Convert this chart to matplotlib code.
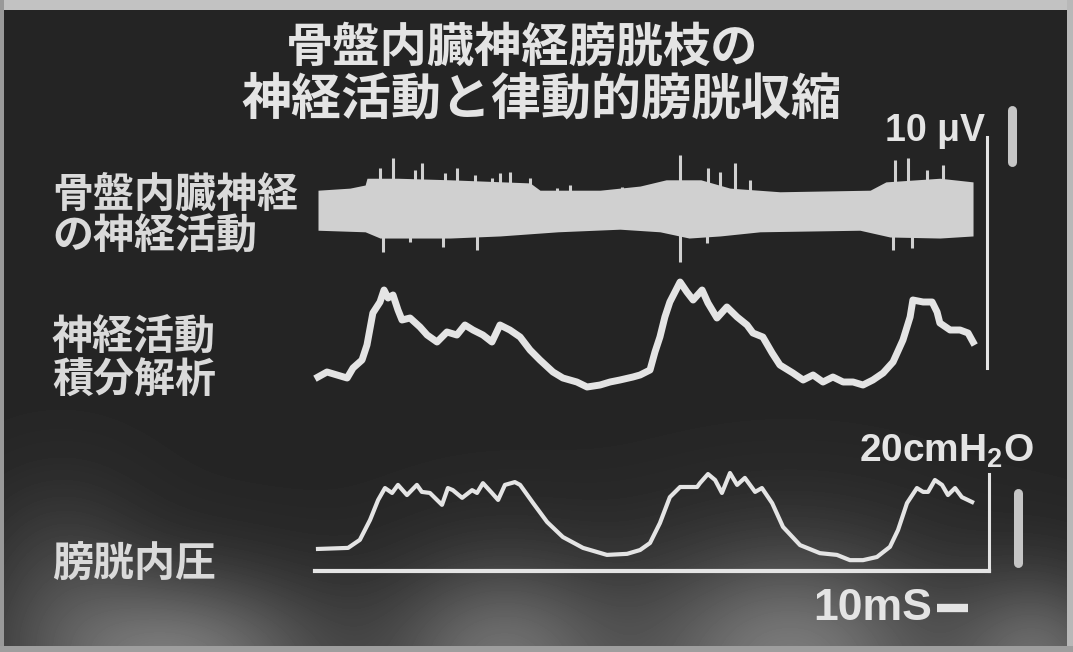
import numpy as np
import matplotlib
matplotlib.use("Agg")
import matplotlib.pyplot as plt

plt.rcParams['font.family'] = ['Noto Sans CJK JP', 'DejaVu Sans']
plt.rcParams['mathtext.default'] = 'regular'

# ---- data ----
# time in ms, 10 ms scale bar
title_lines = ["骨盤内臓神経膀胱枝の", "神経活動と律動的膀胱収縮"]
trace_labels = [["骨盤内臓神経", "の神経活動"], ["神経活動", "積分解析"], ["膀胱内圧"]]

# nerve activity (uV): envelope of the raw band
env_up_t = [0, 10.3, 15.2, 15.8, 25.8, 42.6, 68.4, 71.6, 91.0, 103.9, 112.3, 123.5,
            132.9, 149.0, 178.1, 183.2, 200.6, 211.3]
env_up_v = [4.0, 4.4, 5.0, 6.3, 6.3, 6.0, 5.4, 4.0, 4.0, 4.8, 6.0, 6.0,
            4.4, 3.7, 4.0, 5.6, 6.3, 5.6]
env_lo_t = [0, 15.2, 20.0, 42.6, 58.7, 77.4, 97.4, 110.3, 119.7, 129.7, 142.6,
            174.8, 184.5, 200.6, 211.3]
env_lo_v = [-3.7, -4.0, -5.2, -5.2, -4.8, -4.0, -3.5, -4.0, -5.2, -4.8, -4.0,
            -3.7, -5.0, -5.2, -4.8]
spike_up_t = [20.0, 24.2, 31.3, 33.5, 41.0, 44.8, 50.6, 56.1, 58.7, 61.9, 68.4, 77.1,
              81.3, 98.1, 116.8, 125.8, 129.7, 134.5, 139.4, 186.1, 190.3, 196.5,
              201.6, 208.1]
spike_up_v = [8.3, 10.2, 7.9, 9.2, 7.3, 8.3, 6.9, 6.3, 7.3, 7.5, 6.3, 4.4,
              5.0, 4.6, 10.8, 8.3, 7.5, 9.2, 6.0, 9.8, 10.2, 7.9,
              8.8, 5.6]
spike_dn_t = [21.0, 29.7, 40.3, 51.3, 116.8, 125.5, 185.5, 191.6]
spike_dn_v = [-7.9, -6.0, -6.9, -7.5, -9.8, -6.2, -7.5, -7.1]

# integrated nerve activity (a.u.)
integ_t = [0, 2.9, 9.4, 11.3, 14.2, 15.8, 17.7, 20.0, 21.3, 22.6, 24.2, 25.8, 27.1,
           29.7, 32.9, 35.2, 38.4, 41.6, 44.8, 47.4, 50.0, 53.2, 56.1, 58.7, 61.9,
           65.2, 68.4, 71.6, 75.8, 79.0, 83.5, 86.8, 91.0, 94.2, 97.4, 101.6, 103.9,
           107.1, 108.7, 110.3, 111.9, 113.5, 116.8, 119.0, 121.0, 123.9, 125.8,
           128.7, 131.9, 135.2, 138.4, 140.3, 143.5, 146.5, 149.0, 153.2, 156.5,
           159.7, 162.9, 166.1, 169.4, 172.6, 175.8, 179.0, 182.3, 185.5, 188.7,
           191.0, 191.9, 195.2, 198.1, 199.7, 200.6, 203.9, 207.1, 209.7, 211.3]
integ_v = [10, 15, 9, 19, 27, 42, 74, 85, 97, 89, 92, 77, 67,
           69, 60, 52, 45, 55, 52, 62, 57, 52, 45, 62, 57,
           50, 37, 27, 15, 9, 5, 0, 2, 5, 7, 10, 12,
           17, 35, 50, 70, 85, 105, 95, 87, 97, 84,
           69, 80, 70, 62, 54, 50, 34, 22, 14, 7,
           12, 5, 10, 5, 5, 2, 7, 14, 25, 47,
           70, 87, 85, 85, 75, 64, 57, 57, 54, 45]

# intravesical pressure (cmH2O)
press_t = [0, 9.7, 13.5, 16.8, 19.4, 21.6, 23.9, 25.8, 28.7, 31.9, 33.5, 36.1, 37.7,
           40.0, 41.9, 43.5, 46.5, 49.7, 51.3, 53.2, 56.1, 58.1, 60.3, 63.5, 65.2,
           69.4, 73.9, 79.0, 85.5, 93.2, 99.7, 103.9, 107.1, 110.3, 113.5, 116.8,
           122.3, 123.2, 125.8, 128.1, 130.3, 132.9, 135.2, 137.7, 141.0, 143.2,
           146.5, 150.0, 155.5, 161.9, 167.4, 171.6, 175.8, 180.3, 184.5, 187.1,
           190.0, 193.2, 195.2, 196.8, 199.0, 201.3, 203.2, 205.5, 207.7, 211.0]
press_v = [6.3, 6.6, 8.9, 14.6, 20.3, 23.7, 22.3, 24.6, 21.7, 24.6, 22.6, 22.3, 20.9,
           18.9, 23.7, 23.1, 20.9, 23.1, 22.3, 25.1, 22.3, 20.3, 24.6, 25.4, 24.6,
           19.4, 14.0, 9.7, 6.6, 4.6, 4.9, 6.0, 8.0, 13.7, 21.1, 24.0,
           24.0, 25.1, 27.7, 26.0, 22.3, 28.0, 24.6, 26.6, 22.6, 23.7,
           19.4, 12.6, 7.4, 5.1, 4.6, 3.1, 3.1, 4.0, 6.9, 11.7,
           19.4, 23.7, 22.6, 22.6, 26.0, 24.6, 21.7, 23.7, 21.1, 19.7]

uv_bar = 10      # uV
cmh2o_bar = 20   # cmH2O
ms_bar = 10      # ms

# ---- layout (pixels of the 1073x652 photo) ----
W, H = 1073, 652
T0_PX = 318          # x pixel of t = 0
PX_PER_MS = 3.1
fg = '#e4e4e4'
band = '#d0d0d0'

fig = plt.figure(figsize=(W / 100, H / 100), dpi=100)

# background: dark scope screen with light scan border and glow at bottom
bg = np.full((H, W), 0.145)
yy, xx = np.mgrid[0:H, 0:W]
for cx, cy, sx, sy, amp in [(170, 660, 110, 60, 0.33), (500, 660, 80, 70, 0.28),
                            (790, 660, 110, 80, 0.33), (1040, 660, 60, 60, 0.25),
                            (60, 560, 60, 60, 0.08)]:
    bg += amp * np.exp(-((xx - cx) ** 2 / (2 * sx ** 2) + (yy - cy) ** 2 / (2 * sy ** 2)))
bg[:10, :] = 0.76
bg[:, :4] = 0.6
bg[:, W - 6:] = 0.72
bg[H - 6:, :] = 0.62
bg = np.clip(bg, 0, 1)
ax_bg = fig.add_axes([0, 0, 1, 1])
ax_bg.imshow(bg, cmap='gray', vmin=0, vmax=1, extent=[0, W, H, 0], aspect='auto',
             interpolation='bilinear')
ax_bg.axis('off')


def trace_axes(y0_px, px_per_unit):
    ax = fig.add_axes([0, 0, 1, 1])
    ax.set_xlim(-T0_PX / PX_PER_MS, (W - T0_PX) / PX_PER_MS)
    ax.set_ylim(-(H - y0_px) / px_per_unit, y0_px / px_per_unit)
    ax.axis('off')
    return ax


# raw nerve activity
ax_n = trace_axes(211, 5.2)
t_all = np.union1d(env_up_t, env_lo_t)
ax_n.fill_between(t_all, np.interp(t_all, env_lo_t, env_lo_v),
                  np.interp(t_all, env_up_t, env_up_v), color=band, lw=0)
ax_n.vlines(spike_up_t, 0, spike_up_v, color=band, lw=2.2)
ax_n.vlines(spike_dn_t, 0, spike_dn_v, color=band, lw=2.2)
ax_n.plot([215.8, 215.8], [14.2, -30.2], color=fg, lw=2.2)
ax_n.plot([223.9, 223.9], [9.4, 9.4 + uv_bar], color='#c6c6c6', lw=6.5,
          solid_capstyle='round')

# integrated activity
ax_i = trace_axes(387, 1.0)
ax_i.plot(integ_t, integ_v, color=fg, lw=5, solid_joinstyle='round')

# bladder pressure
ax_p = trace_axes(571, 3.5)
ax_p.plot(press_t, press_v, color=fg, lw=3, solid_joinstyle='round')
ax_p.plot([-1, 216.6], [0, 0], color=fg, lw=3)
ax_p.plot([216.6, 216.6], [0, 27.7], color=fg, lw=2.2)
ax_p.plot([225.8, 225.8], [2.3, 2.3 + cmh2o_bar], color='#c6c6c6', lw=6.5,
          solid_capstyle='round')
ax_p.plot([199.7, 199.7 + ms_bar], [-10.6, -10.6], color=fg, lw=6,
          solid_capstyle='butt')

# text
def ftext(x, y, s, **kw):
    fig.text(x / W, 1 - y / H, s, **kw)


ftext(522, 48, title_lines[0], fontsize=34, fontweight='bold', color=fg,
      ha='center', va='center')
ftext(541, 100, title_lines[1], fontsize=36, fontweight='bold', color=fg,
      ha='center', va='center')

label_y = [[195, 237], [338, 381], [565]]
for lines, ys in zip(trace_labels, label_y):
    for s, y in zip(lines, ys):
        ftext(52, y, s, fontsize=29.5, fontweight='bold', color='#dadada',
              ha='left', va='center')

latin = ['Liberation Sans', 'DejaVu Sans']
ftext(985, 131, "10 μV", fontsize=27, fontweight='bold', color=fg,
      ha='right', va='center', family=latin)
ftext(1034, 451, "20cmH$_2$O", fontsize=28, fontweight='bold', color=fg,
      ha='right', va='center', family=latin)
ftext(932, 608, "10mS", fontsize=32, fontweight='bold', color=fg,
      ha='right', va='center', family=latin)

fig.savefig("out.png", dpi=100)
